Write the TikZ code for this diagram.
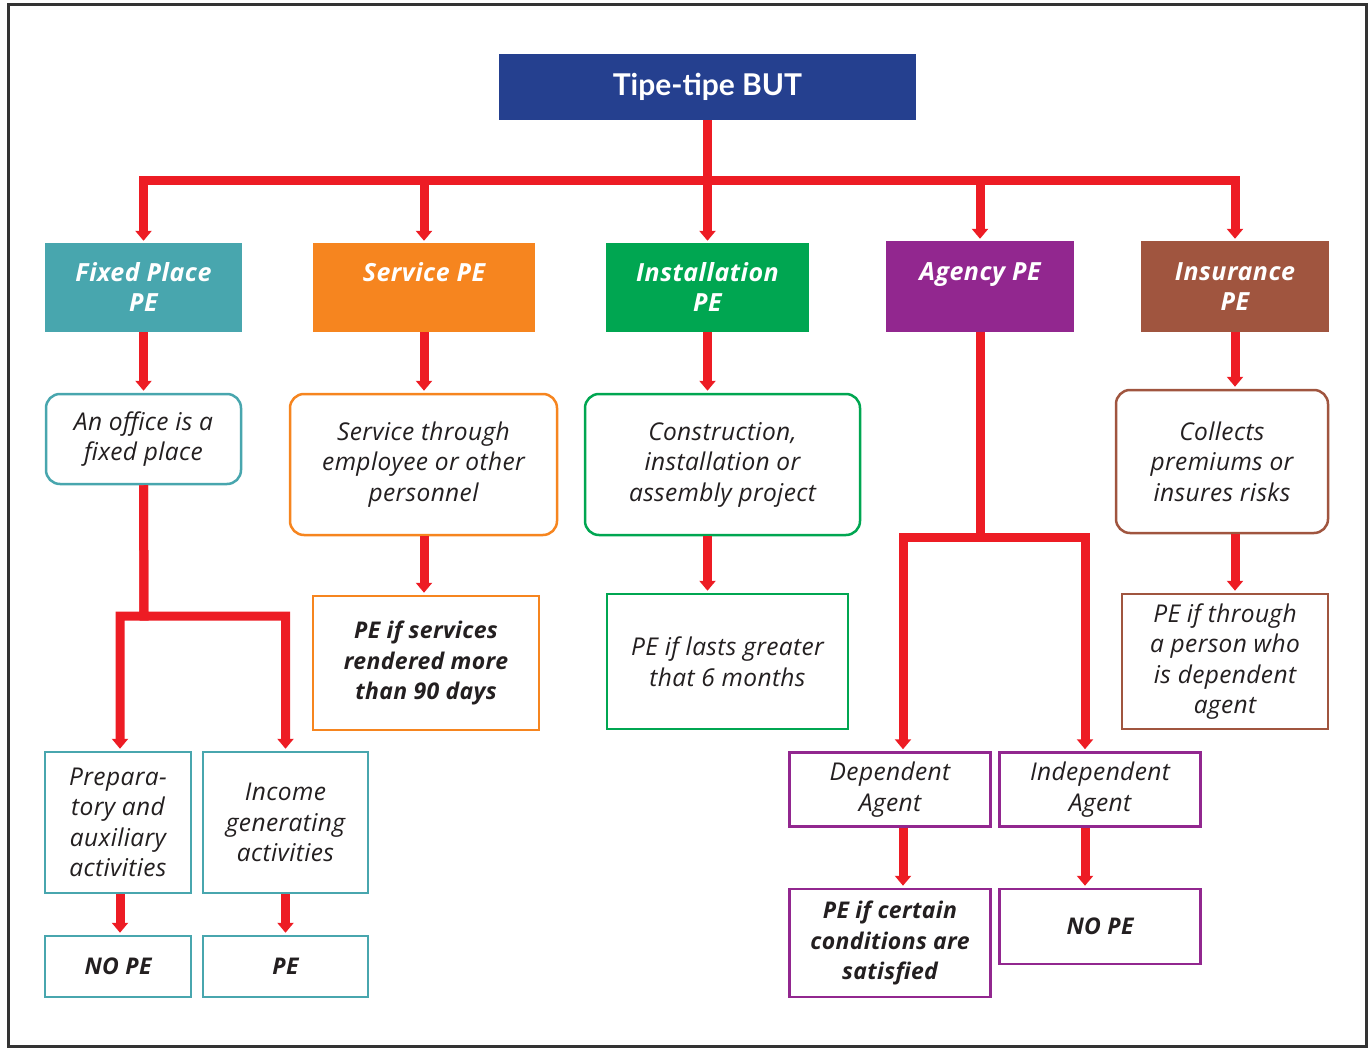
\documentclass[tikz,border=0pt]{standalone}
\usepackage{fontspec}
\setmainfont{Lato}
\newfontfamily\bodyfont{Open Sans}[LetterSpace=1.5]
\newfontfamily\headfont{Open Sans}[LetterSpace=2]
\usetikzlibrary{arrows.meta}

\definecolor{titleblue}{HTML}{25408F}
\definecolor{pteal}{HTML}{48A6AE}
\definecolor{porange}{HTML}{F6851F}
\definecolor{pgreen}{HTML}{00A651}
\definecolor{ppurple}{HTML}{92278F}
\definecolor{pbrown}{HTML}{A0553F}
\definecolor{pred}{HTML}{ED1C24}
\definecolor{ptext}{HTML}{231F20}
\definecolor{frame}{HTML}{333333}

\tikzset{
  wh/.style 2 args={minimum width=#1pt, minimum height=#2pt},
  hdr/.style={fill=#1, draw=none, text=white, inner sep=0pt, align=center,
    font=\headfont\fontsize{25}{30}\selectfont\bfseries\itshape},
  plain/.style={draw=#1, line width=2.5pt, fill=white, text=ptext, inner sep=0pt,
    align=center, font=\bodyfont\fontsize{24.5}{30.5}\selectfont\itshape},
  soft/.style={plain=#1, rounded corners=14pt},
  result/.style={plain=#1, font=\bodyfont\fontsize{23}{30.5}\selectfont\bfseries\itshape},
  arr/.style={draw=pred, line width=9pt, line join=miter,
    -{Triangle[width=16pt,length=10pt]}, shorten >=2pt},
}

\begin{document}
\begin{tikzpicture}[x=1pt, y=-1pt]
\useasboundingbox (0,0) rectangle (1370,1048);
\draw[frame, line width=3pt] (8,5) rectangle (1366,1046);

% root
\node[fill=titleblue, text=white, wh={417}{66}, inner sep=0pt,
  font=\fontsize{30}{34}\selectfont\bfseries] (title) at (707.5,87) {Tipe-tipe BUT};

% categories
\node[hdr=pteal,   wh={197}{89}] (fp)   at (143.5,287.5) {Fixed Place\\PE};
\node[hdr=porange, wh={222}{89}] (svc)  at (424,287.5)   {Service PE\\\phantom{PE}};
\node[hdr=pgreen,  wh={203}{89}] (inst) at (707.5,287.5) {Installation\\PE};
\node[hdr=ppurple, wh={188}{91}] (agy)  at (980,286.5)   {Agency PE\\\phantom{PE}};
\node[hdr=pbrown,  wh={188}{91}] (ins)  at (1235,286.5)  {Insurance\\PE};

% conditions
\node[soft=pteal,   wh={195}{90}]  (fp2)   at (143.5,439)   {An office is a\\fixed place};
\node[soft=porange, wh={267}{141}] (svc2)  at (423.5,464.5) {Service through\\employee or other\\personnel};
\node[soft=pgreen,  wh={275}{141}] (inst2) at (722.5,464.5) {Construction,\\installation or\\assembly project};
\node[soft=pbrown,  wh={212}{143}] (ins2)  at (1222,461.5)  {Collects\\premiums or\\insures risks};

% outcomes and sub-cases
\node[result=porange, wh={226}{134}] (svc3)  at (426,663)     {PE if services\\rendered more\\than 90 days};
\node[plain=pgreen,   wh={241}{135}] (inst3) at (727.5,661.5) {PE if lasts greater\\that 6 months};
\node[plain=pbrown,   wh={206}{135}] (ins3)  at (1225,661.5)  {PE if through\\a person who\\is dependent\\agent};
\node[plain=pteal,    wh={146}{141}] (prep)  at (118,822.5)   {Prepara-\\tory and\\auxiliary\\activities};
\node[plain=pteal,    wh={165}{141}] (inc)   at (285.5,822.5) {Income\\generating\\activities};
\node[plain=ppurple,  wh={201}{74}]  (dep)   at (890,789.5)   {Dependent\\Agent};
\node[plain=ppurple,  wh={201}{74}]  (ind)   at (1100,789.5)  {Independent\\Agent};

\node[result=pteal,   wh={146}{61}]  (nope1) at (118,966.5)   {NO PE};
\node[result=pteal,   wh={165}{61}]  (pe1)   at (285.5,966.5) {PE};
\node[result=ppurple, wh={201}{108}] (depr)  at (890,943)     {PE if certain\\conditions are\\satisfied};
\node[result=ppurple, wh={201}{75}]  (indr)  at (1100,926.5)  {NO PE};

% connectors
\coordinate (bus) at (707.5,181);
\draw[arr] (title.south) -- (bus) -| (fp.north);
\draw[arr] (title.south) -- (bus) -| (svc.north);
\draw[arr] (title.south) -- (inst.north);
\draw[arr] (title.south) -- (bus) -| (agy.north);
\draw[arr] (title.south) -- (bus) -| (ins.north);

\draw[arr] (fp.south) -- (fp2.north);
\draw[arr] (svc.south) -- (svc.south |- svc2.north);
\draw[arr] (inst.south) -- (inst.south |- inst2.north);
\draw[arr] (ins.south) -- (ins.south |- ins2.north);

\draw[arr] (svc.south |- svc2.south) -- (svc.south |- svc3.north);
\draw[arr] (inst.south |- inst2.south) -- (inst.south |- inst3.north);
\draw[arr] (ins.south |- ins2.south) -- (ins.south |- ins3.north);

\coordinate (fpbus) at (144,616);
\draw[arr] (fp2.south) -- (fpbus) -| ([xshift=2pt]prep.north);
\draw[arr] (fp2.south) -- (fpbus) -| (inc.north);
\draw[arr] ([xshift=2pt]prep.south) -- ([xshift=2pt]nope1.north);
\draw[arr] (inc.south) -- (pe1.north);

\coordinate (agbus) at (980,537);
\draw[arr] (agy.south) -- (agbus) -| ([xshift=13pt]dep.north);
\draw[arr] (agy.south) -- (agbus) -| ([xshift=-15pt]ind.north);
\draw[arr] ([xshift=13pt]dep.south) -- ([xshift=13pt]depr.north);
\draw[arr] ([xshift=-15pt]ind.south) -- ([xshift=-15pt]indr.north);
\end{tikzpicture}
\end{document}
